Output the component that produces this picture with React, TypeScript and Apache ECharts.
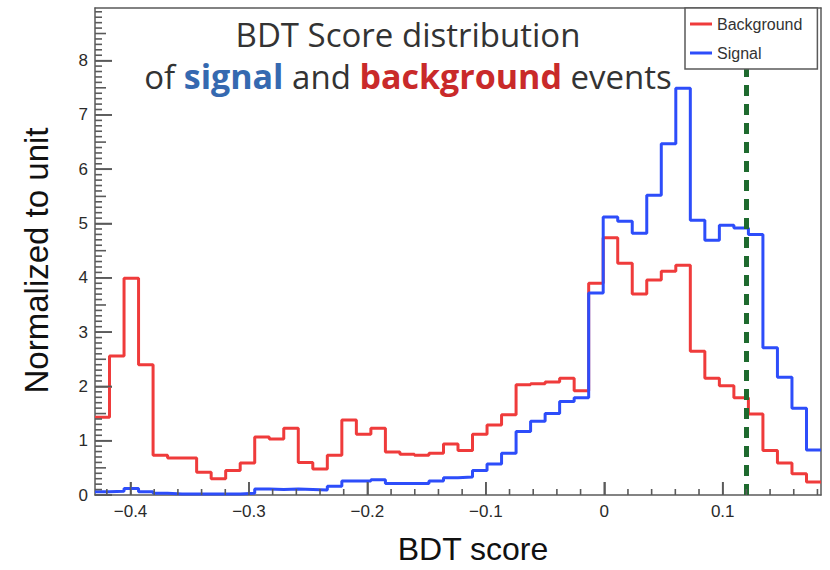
import React, { useEffect, useRef } from "react";
import * as echarts from "echarts";

// Histogram binning (50 bins)
const X_MIN = -0.43;
const X_MAX = 0.183;
const BIN_W = (X_MAX - X_MIN) / 50;

const background = [
  1.43, 2.56, 3.99, 2.4, 0.73, 0.68, 0.68, 0.42, 0.3, 0.45,
  0.59, 1.07, 1.03, 1.23, 0.6, 0.48, 0.73, 1.38, 1.12, 1.23,
  0.79, 0.75, 0.73, 0.77, 0.94, 0.82, 1.12, 1.29, 1.48, 2.03,
  2.05, 2.08, 2.15, 1.92, 3.9, 4.74, 4.27, 3.7, 3.96, 4.12,
  4.23, 2.65, 2.15, 2.01, 1.79, 1.49, 0.82, 0.59, 0.39, 0.24,
];

const signal = [
  0.06, 0.07, 0.12, 0.06, 0.03, 0.02, 0.02, 0.02, 0.02, 0.02,
  0.03, 0.11, 0.1, 0.11, 0.1, 0.09, 0.16, 0.26, 0.26, 0.28,
  0.21, 0.21, 0.21, 0.26, 0.32, 0.33, 0.45, 0.57, 0.77, 1.17,
  1.36, 1.5, 1.72, 1.79, 3.72, 5.12, 5.04, 4.82, 5.52, 6.47,
  7.49, 5.06, 4.69, 4.97, 4.92, 4.8, 2.71, 2.17, 1.6, 0.83,
];

const cutValue = 0.1216;
const Y_MAX = 8.97;

// Tick positions
const xMajorTicks = [-0.4, -0.3, -0.2, -0.1, 0, 0.1];
const xMinorTicks: number[] = [];
for (let k = -21; k <= 9; k++) if (k % 5 !== 0) xMinorTicks.push(k / 50);
const yMajorTicks = [0, 1, 2, 3, 4, 5, 6, 7, 8];
const yHalfTicks: number[] = [];
for (let k = 0; k < 9; k++) yHalfTicks.push(k + 0.5);
const yMinorTicks: number[] = [];
for (let k = 1; k < 90; k++) if (k % 5 !== 0) yMinorTicks.push(k / 10);

function toSteps(vals: number[]) {
  const pts: number[][] = vals.map((v, i) => [X_MIN + i * BIN_W, v]);
  pts.push([X_MAX, vals[vals.length - 1]]);
  return pts;
}

const FRAME = "#5a5a5a";
const fmt = (v: number) => String(Math.round(v * 10) / 10).replace("-", "\u2212");

function tickSeries(name: string, pts: number[][], dx: number, dy: number) {
  return {
    name,
    type: "custom",
    silent: true,
    clip: false,
    z: 5,
    data: pts,
    renderItem: (_p: any, api: any) => {
      const pt = api.coord([api.value(0), api.value(1)]);
      return {
        type: "line",
        shape: { x1: pt[0], y1: pt[1], x2: pt[0] + dx, y2: pt[1] + dy },
        style: { stroke: FRAME, lineWidth: 1.6 },
      };
    },
  };
}

export default function App() {
  const ref = useRef<HTMLDivElement>(null);
  useEffect(() => {
    document.body.style.margin = "0";
    if (!ref.current) return;
    const chart = echarts.init(ref.current, undefined, { renderer: "svg" });
    const tickLabel = {
      fontFamily: "Liberation Sans",
      fontSize: 17,
      color: "#2a2a2a",
    };
    const frameLine = { show: true, onZero: false, lineStyle: { color: FRAME, width: 1.5 } };
    chart.setOption({
      animation: false,
      backgroundColor: "#fff",
      grid: {
        left: 95,
        right: 9,
        top: 8,
        bottom: 73,
      },
      graphic: [
        {
          type: "text",
          x: 408,
          y: 34,
          z: 10,
          style: {
            text: "BDT Score distribution",
            fontFamily: "Open Sans",
            fontSize: 33,
            fill: "#333",
            align: "center",
            verticalAlign: "middle",
          },
        },
        {
          type: "text",
          x: 408,
          y: 76,
          z: 10,
          style: {
            text: "{o|of }{s|signal}{o| and }{b|background}{o| events}",
            align: "center",
            verticalAlign: "middle",
            rich: {
              o: { fontFamily: "Open Sans", fontSize: 33, fill: "#333" },
              s: { fontFamily: "Open Sans", fontSize: 34, fontWeight: "bold", fill: "#3569b0" },
              b: { fontFamily: "Open Sans", fontSize: 34, fontWeight: "bold", fill: "#c92a2a" },
            },
          },
        },
      ],
      legend: {
        orient: "vertical",
        left: 685,
        top: 8,
        z: 10,
        padding: [8, 15, 8, 5],
        itemGap: 13,
        itemWidth: 22,
        itemHeight: 3,
        icon: "rect",
        backgroundColor: "#fff",
        borderColor: FRAME,
        borderWidth: 1.5,
        borderRadius: 0,
        textStyle: { fontFamily: "Liberation Sans", fontSize: 16, color: "#333" },
        data: ["Background", "Signal"],
      },
      xAxis: [
        {
          type: "value",
          min: X_MIN,
          max: X_MAX,
          splitNumber: 6,
          splitLine: { show: false },
          position: "bottom",
          name: "BDT score",
          nameLocation: "middle",
          nameGap: 38,
          nameTextStyle: {
            fontFamily: "Liberation Sans",
            fontSize: 32,
            color: "#111",
            padding: [0, 0, 0, 30],
          },
          axisLine: frameLine,
          axisTick: { show: true, inside: true, length: 13, lineStyle: { color: FRAME, width: 1.6 } },
          axisLabel: {
            ...tickLabel,
            margin: 8,
            showMinLabel: false,
            showMaxLabel: false,
            formatter: fmt,
          },
        },
        {
          type: "value",
          min: X_MIN,
          max: X_MAX,
          position: "top",
          splitLine: { show: false },
          axisLine: frameLine,
          axisTick: { show: false },
          axisLabel: { show: false },
        },
      ],
      yAxis: [
        {
          type: "value",
          min: 0,
          max: Y_MAX,
          interval: 1,
          splitLine: { show: false },
          position: "left",
          name: "Normalized to unit",
          nameLocation: "middle",
          nameGap: 42,
          nameRotate: 90,
          nameTextStyle: {
            fontFamily: "Liberation Sans",
            fontSize: 33,
            color: "#111",
            padding: [0, 18, 0, 0],
          },
          axisLine: frameLine,
          axisTick: { show: true, inside: true, length: 17, lineStyle: { color: FRAME, width: 1.6 } },
          axisLabel: {
            ...tickLabel,
            margin: 7,
            showMaxLabel: false,
            formatter: fmt,
          },
        },
        {
          type: "value",
          min: 0,
          max: Y_MAX,
          position: "right",
          splitLine: { show: false },
          axisLine: frameLine,
          axisTick: { show: false },
          axisLabel: { show: false },
        },
      ],
      series: [
        tickSeries("xMajor", xMajorTicks.map((v) => [v, 0]), 0, -13),
        tickSeries("xMinor", xMinorTicks.map((v) => [v, 0]), 0, -6),
        tickSeries("yMajor", yMajorTicks.map((v) => [X_MIN, v]), 17, 0),
        tickSeries("yHalf", yHalfTicks.map((v) => [X_MIN, v]), 11, 0),
        tickSeries("yMinor", yMinorTicks.map((v) => [X_MIN, v]), 7, 0),
        {
          name: "Background",
          type: "line",
          step: "end",
          symbol: "none",
          data: toSteps(background),
          itemStyle: { color: "#ef3b3b" },
          lineStyle: { color: "#ef3b3b", width: 3 },
          z: 3,
        },
        {
          name: "Signal",
          type: "line",
          step: "end",
          symbol: "none",
          data: toSteps(signal),
          itemStyle: { color: "#2d4dfa" },
          lineStyle: { color: "#2d4dfa", width: 3 },
          z: 3,
          markLine: {
            silent: true,
            symbol: "none",
            label: { show: false },
            lineStyle: { color: "#1e6a2e", width: 5, type: [11, 8] },
            data: [{ xAxis: cutValue }],
          },
        },
      ],
    });
    return () => chart.dispose();
  }, []);
  return <div ref={ref} style={{ width: 830, height: 570 }} />;
}
